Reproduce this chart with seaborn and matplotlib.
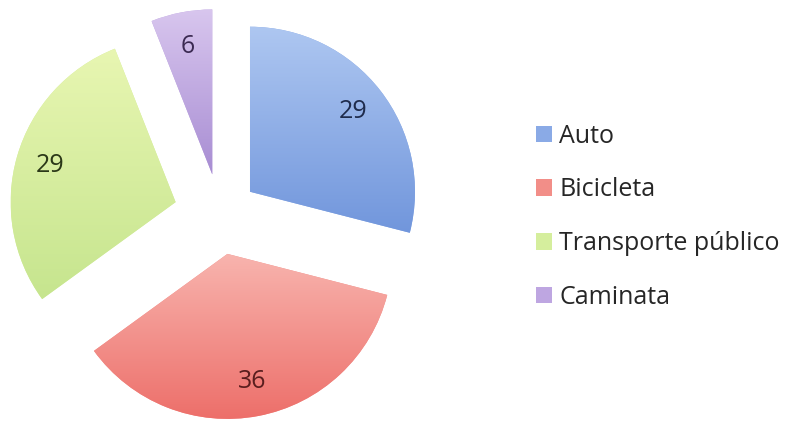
import matplotlib
matplotlib.use('Agg')
import matplotlib.pyplot as plt
import seaborn as sns
import numpy as np
from matplotlib.patches import Patch
from matplotlib.colors import LinearSegmentedColormap

sns.set_theme(style='white')
plt.rcParams['font.family'] = ['Open Sans', 'DejaVu Sans']

categories = ['Auto', 'Bicicleta', 'Transporte público', 'Caminata']
values = [29, 36, 29, 6]

explode = [0.23, 0.24, 0.28, 0.25]
colors_top = ['#aec7f1', '#f8b4ae', '#e8f6b2', '#d8c6ee']
colors_bottom = ['#7196dc', '#ed6f6a', '#c6e58e', '#a88dd3']
colors_mid = ['#8aaae6', '#f28e88', '#d5ee9d', '#bea6e1']
label_colors = ['#1f2c4d', '#5a1e1e', '#2b3818', '#3b2a52']

fig = plt.figure(figsize=(7.86, 4.25), dpi=100)
ax = fig.add_axes([0, 0, 1, 1])

wedges, texts, autotexts = ax.pie(
    values, explode=explode, startangle=90, counterclock=False,
    colors=colors_mid, autopct='%.0f', pctdistance=0.79,
    radius=1, center=(0, 0),
    wedgeprops=dict(linewidth=0),
    textprops=dict(fontsize=18),
)

px = 165.0
cx, cy = 220.0, 210.0
ax.set_xlim(-cx / px, (786 - cx) / px)
ax.set_ylim(-cy / px, (425 - cy) / px)
ax.set_aspect('equal')
ax.axis('off')

for w, ct, cb, at, lc in zip(wedges, colors_top, colors_bottom, autotexts, label_colors):
    ext = w.get_path().get_extents()
    cmap = LinearSegmentedColormap.from_list('g', [cb, ct])
    grad = np.linspace(0, 1, 256).reshape(-1, 1)
    im = ax.imshow(grad, cmap=cmap, aspect='auto', origin='lower',
                   extent=(ext.x0, ext.x1, ext.y0, ext.y1), zorder=w.get_zorder() + 0.1)
    im.set_clip_path(w)
    at.set_color(lc)
    at.set_zorder(5)

handles = [Patch(facecolor=c, edgecolor='none') for c in colors_mid]
leg = fig.legend(handles, categories, loc='center left', bbox_to_anchor=(0.682, 0.49),
                 frameon=False, fontsize=18, handlelength=0.65, handleheight=0.65,
                 handletextpad=0.28, labelspacing=1.15, borderaxespad=0, borderpad=0)
for t in leg.get_texts():
    t.set_color('#262626')

fig.savefig('out.png', dpi=100, facecolor='white')
